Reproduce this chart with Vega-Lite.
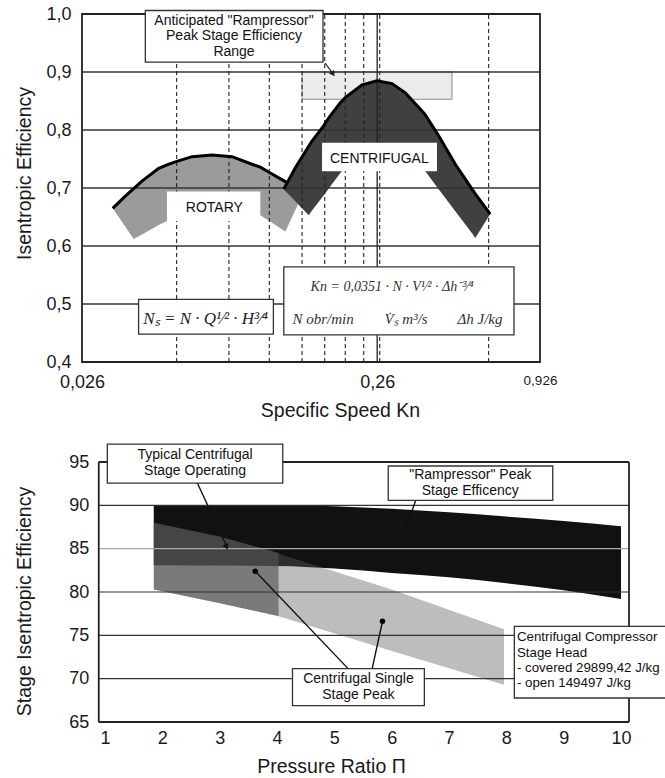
{
  "$schema": "https://vega.github.io/schema/vega-lite/v6.json",
  "background": "white",
  "padding": {"left": 13, "top": 4, "right": 0, "bottom": 0},
  "spacing": 22,
  "config": {
    "view": {"stroke": "#222", "strokeWidth": 1.8},
    "font": "Liberation Sans",
    "axis": {"labelColor": "#1a1a1a", "titleColor": "#1a1a1a", "titleFontWeight": "normal", "labelFont": "Liberation Sans", "titleFont": "Liberation Sans"}
  },
  "datasets": {
    "rotary": [
      {"kn": 0.03304, "eff": 0.665, "eff2": 0.665},
      {"kn": 0.03645, "eff": 0.686, "eff2": 0.633},
      {"kn": 0.03891, "eff": 0.699, "eff2": 0.612},
      {"kn": 0.04151, "eff": 0.712, "eff2": 0.620},
      {"kn": 0.04730, "eff": 0.734, "eff2": 0.636},
      {"kn": 0.05046, "eff": 0.740, "eff2": 0.643},
      {"kn": 0.05384, "eff": 0.745, "eff2": 0.648},
      {"kn": 0.06132, "eff": 0.754, "eff2": 0.655},
      {"kn": 0.07167, "eff": 0.757, "eff2": 0.660},
      {"kn": 0.08378, "eff": 0.754, "eff2": 0.658},
      {"kn": 0.09794, "eff": 0.741, "eff2": 0.654},
      {"kn": 0.1045, "eff": 0.736, "eff2": 0.653},
      {"kn": 0.1145, "eff": 0.724, "eff2": 0.640},
      {"kn": 0.1270, "eff": 0.711, "eff2": 0.625},
      {"kn": 0.1287, "eff": 0.709, "eff2": 0.631},
      {"kn": 0.1402, "eff": 0.672, "eff2": 0.672}
    ],
    "cent": [
      {"kn": 0.1254, "eff": 0.698, "eff2": 0.698},
      {"kn": 0.1373, "eff": 0.735, "eff2": 0.677},
      {"kn": 0.1524, "eff": 0.772, "eff2": 0.653},
      {"kn": 0.1564, "eff": 0.781, "eff2": 0.661},
      {"kn": 0.1717, "eff": 0.808, "eff2": 0.688},
      {"kn": 0.1782, "eff": 0.821, "eff2": 0.699},
      {"kn": 0.1950, "eff": 0.847, "eff2": 0.726},
      {"kn": 0.2027, "eff": 0.856, "eff2": 0.735},
      {"kn": 0.2310, "eff": 0.878, "eff2": 0.755},
      {"kn": 0.2596, "eff": 0.885, "eff2": 0.762},
      {"kn": 0.2918, "eff": 0.880, "eff2": 0.758},
      {"kn": 0.3238, "eff": 0.864, "eff2": 0.748},
      {"kn": 0.3689, "eff": 0.833, "eff2": 0.736},
      {"kn": 0.3785, "eff": 0.826, "eff2": 0.729},
      {"kn": 0.4201, "eff": 0.790, "eff2": 0.698},
      {"kn": 0.4783, "eff": 0.741, "eff2": 0.660},
      {"kn": 0.5450, "eff": 0.698, "eff2": 0.622},
      {"kn": 0.5590, "eff": 0.690, "eff2": 0.614},
      {"kn": 0.6282, "eff": 0.655, "eff2": 0.655}
    ],
    "vdash": [
      {"kn": 0.0544, "eff": 0.4, "eff2": 1.0},
      {"kn": 0.0818, "eff": 0.4, "eff2": 1.0},
      {"kn": 0.1121, "eff": 0.4, "eff2": 1.0},
      {"kn": 0.1447, "eff": 0.4, "eff2": 1.0},
      {"kn": 0.1727, "eff": 0.4, "eff2": 1.0},
      {"kn": 0.2027, "eff": 0.4, "eff2": 1.0},
      {"kn": 0.2341, "eff": 0.4, "eff2": 1.0},
      {"kn": 0.2652, "eff": 0.4, "eff2": 1.0},
      {"kn": 0.6204, "eff": 0.4, "eff2": 1.0}
    ],
    "vsolid": [{"kn": 0.26, "eff": 0.4, "eff2": 1.0}],
    "hgrid": [
      {"eff": 0.5, "kn": 0.026, "kn2": 0.926},
      {"eff": 0.6, "kn": 0.026, "kn2": 0.926},
      {"eff": 0.7, "kn": 0.026, "kn2": 0.926},
      {"eff": 0.8, "kn": 0.026, "kn2": 0.926},
      {"eff": 0.9, "kn": 0.026, "kn2": 0.926}
    ],
    "range": [{"kn": 0.1447, "kn2": 0.466, "eff": 0.853, "eff2": 0.9}],
    "topBoxes": [
      {"kn": 0.04261, "kn2": 0.1704, "eff": 0.917, "eff2": 1.006},
      {"kn": 0.04043, "kn2": 0.1157, "eff": 0.448, "eff2": 0.508},
      {"kn": 0.1255, "kn2": 0.7558, "eff": 0.4466, "eff2": 0.564}
    ],
    "topCutouts": [
      {"kn": 0.05046, "kn2": 0.1045, "eff": 0.643, "eff2": 0.694},
      {"kn": 0.1691, "kn2": 0.4145, "eff": 0.729, "eff2": 0.778}
    ],
    "topSans": [
      {"kn": 0.0851, "eff": 0.988, "label": "Anticipated \"Rampressor\""},
      {"kn": 0.0851, "eff": 0.962, "label": "Peak Stage Efficiency"},
      {"kn": 0.0851, "eff": 0.935, "label": "Range"},
      {"kn": 0.0730, "eff": 0.666, "label": "ROTARY"},
      {"kn": 0.2644, "eff": 0.7495, "label": "CENTRIFUGAL"}
    ],
    "nsText": [{"kn": 0.0682, "eff": 0.4736, "label": "Nₛ = N · Q¹⁄² · H³⁄⁴"}],
    "knTitle": [{"kn": 0.2922, "eff": 0.5293, "label": "Kn = 0,0351 · N · V¹⁄² · Δh⁻³⁄⁴"}],
    "knText": [
      {"kn": 0.1704, "eff": 0.4736, "label": "N  obr/min"},
      {"kn": 0.3256, "eff": 0.4736, "label": "V̇ₛ  m³/s"},
      {"kn": 0.5799, "eff": 0.4736, "label": "Δh  J/kg"}
    ],
    "topArrow": [{"kn": 0.1731, "eff": 0.9155, "kn2": 0.1843, "eff2": 0.8966}],
    "topHead": [{"kn": 0.1843, "eff": 0.8966}],
    "ramp": [
      {"pr": 1.85, "se": 90.0, "se2": 83.1},
      {"pr": 4.0, "se": 90.0, "se2": 83.0},
      {"pr": 5.0, "se": 89.9, "se2": 82.7},
      {"pr": 6.0, "se": 89.6, "se2": 82.2},
      {"pr": 7.0, "se": 89.2, "se2": 81.7},
      {"pr": 8.0, "se": 88.7, "se2": 81.0},
      {"pr": 9.0, "se": 88.2, "se2": 80.2},
      {"pr": 10.0, "se": 87.6, "se2": 79.2}
    ],
    "typical": [
      {"pr": 1.85, "se": 88.0, "se2": 80.3},
      {"pr": 3.0, "se": 86.4, "se2": 78.7},
      {"pr": 4.03, "se": 84.5, "se2": 77.2}
    ],
    "single": [
      {"pr": 4.03, "se": 84.4, "se2": 77.2},
      {"pr": 6.0, "se": 80.3, "se2": 73.2},
      {"pr": 7.96, "se": 75.7, "se2": 69.3}
    ],
    "bgrid": [
      {"se": 70, "pr": 0.89, "pr2": 10.14},
      {"se": 75, "pr": 0.89, "pr2": 10.14},
      {"se": 80, "pr": 0.89, "pr2": 10.14},
      {"se": 90, "pr": 0.89, "pr2": 10.14}
    ],
    "bgridLight": [{"se": 85, "pr": 0.89, "pr2": 10.14}],
    "bframe": [
      {"pr": 0.89, "pr2": 10.14, "se": 95, "se2": 95},
      {"pr": 0.89, "pr2": 10.14, "se": 65, "se2": 65},
      {"pr": 0.89, "pr2": 0.89, "se": 65, "se2": 95},
      {"pr": 10.14, "pr2": 10.14, "se": 65, "se2": 95}
    ],
    "bBoxes": [
      {"pr": 1.04, "pr2": 4.10, "se": 92.57, "se2": 97.07},
      {"pr": 5.94, "pr2": 8.81, "se": 90.58, "se2": 94.54},
      {"pr": 4.27, "pr2": 6.57, "se": 66.9, "se2": 71.16},
      {"pr": 8.14, "pr2": 11.7, "se": 67.77, "se2": 76.04}
    ],
    "bText": [
      {"pr": 2.57, "se": 95.85, "label": "Typical Centrifugal"},
      {"pr": 2.57, "se": 94.0, "label": "Stage Operating"},
      {"pr": 7.37, "se": 93.48, "label": "\"Rampressor\" Peak"},
      {"pr": 7.37, "se": 91.64, "label": "Stage Efficency"},
      {"pr": 5.42, "se": 70.01, "label": "Centrifugal Single"},
      {"pr": 5.42, "se": 68.17, "label": "Stage Peak"}
    ],
    "compText": [
      {"pr": 8.185, "se": 74.31, "label": "Centrifugal Compressor"},
      {"pr": 8.185, "se": 72.55, "label": "Stage Head"},
      {"pr": 8.185, "se": 70.77, "label": "- covered  29899,42 J/kg"},
      {"pr": 8.185, "se": 69.01, "label": "- open  149497 J/kg"}
    ],
    "bLines": [
      {"pr": 2.61, "se": 92.57, "pr2": 3.12, "se2": 85.3},
      {"pr": 6.42, "se": 90.58, "pr2": 6.28, "se2": 88.0},
      {"pr": 5.24, "se": 71.16, "pr2": 3.62, "se2": 82.39},
      {"pr": 5.66, "se": 71.16, "pr2": 5.84, "se2": 76.62}
    ],
    "headTypical": [{"pr": 3.12, "se": 85.2}],
    "headRamp": [{"pr": 6.27, "se": 87.8}],
    "bDots": [{"pr": 3.62, "se": 82.39}, {"pr": 5.84, "se": 76.62}]
  },
  "vconcat": [
    {
      "width": 458,
      "height": 348,
      "encoding": {
        "x": {"field": "kn", "type": "quantitative",
          "scale": {"type": "log", "domain": [0.026, 0.926], "nice": false},
          "axis": {"values": [0.026, 0.26, 0.926], "labelExpr": "replace(format(datum.value, '.3~f'), '.', ',')",
            "grid": false, "ticks": false, "domain": false, "labelFlush": false, "labelPadding": 11,
            "labelFontSize": {"condition": {"test": "datum.value > 0.5", "value": 13.5}, "value": 18},
            "title": "Specific Speed  Kn", "titleFontSize": 19.5, "titlePadding": 10, "titleX": 258}},
        "y": {"field": "eff", "type": "quantitative",
          "scale": {"domain": [0.4, 1.0], "nice": false, "zero": false},
          "axis": {"values": [0.4, 0.5, 0.6, 0.7, 0.8, 0.9, 1.0], "labelExpr": "replace(format(datum.value, '.1f'), '.', ',')",
            "grid": false, "ticks": false, "domain": false, "labelPadding": 11, "labelFontSize": 18,
            "title": "Isentropic Efficiency", "titleFontSize": 19.5, "titleX": -48, "titleY": 159}}
      },
      "layer": [
        {"data": {"name": "range"}, "mark": {"type": "rect", "fill": "#ebebeb", "stroke": "#8a8a8a", "strokeWidth": 1},
          "encoding": {"x2": {"field": "kn2"}, "y2": {"field": "eff2"}}},
        {"data": {"name": "rotary"}, "mark": {"type": "area", "orient": "vertical", "color": "#9b9b9b"},
          "encoding": {"y2": {"field": "eff2"}}},
        {"data": {"name": "cent"}, "mark": {"type": "area", "orient": "vertical", "color": "#404040"},
          "encoding": {"y2": {"field": "eff2"}}},
        {"data": {"name": "hgrid"}, "mark": {"type": "rule", "color": "#333", "strokeWidth": 1.3},
          "encoding": {"x2": {"field": "kn2"}}},
        {"data": {"name": "vdash"}, "mark": {"type": "rule", "color": "#222", "strokeWidth": 1.1, "strokeDash": [4, 3]},
          "encoding": {"y2": {"field": "eff2"}}},
        {"data": {"name": "vsolid"}, "mark": {"type": "rule", "color": "#222", "strokeWidth": 1.3},
          "encoding": {"y2": {"field": "eff2"}}},
        {"data": {"name": "rotary"}, "transform": [{"filter": "datum.kn <= 0.1288"}],
          "mark": {"type": "line", "color": "#000", "strokeWidth": 3}, "encoding": {}},
        {"data": {"name": "cent"}, "mark": {"type": "line", "color": "#000", "strokeWidth": 3}, "encoding": {}},
        {"data": {"name": "topCutouts"}, "mark": {"type": "rect", "fill": "white", "strokeWidth": 0},
          "encoding": {"x2": {"field": "kn2"}, "y2": {"field": "eff2"}}},
        {"data": {"name": "topBoxes"}, "mark": {"type": "rect", "fill": "white", "stroke": "#333", "strokeWidth": 1.3},
          "encoding": {"x2": {"field": "kn2"}, "y2": {"field": "eff2"}}},
        {"data": {"name": "topSans"}, "mark": {"type": "text", "fontSize": 14, "color": "#111", "baseline": "middle", "font": "Liberation Sans"},
          "encoding": {"text": {"field": "label"}}},
        {"data": {"name": "nsText"}, "mark": {"type": "text", "fontSize": 17, "color": "#222", "baseline": "middle", "font": "Liberation Serif", "fontStyle": "italic"},
          "encoding": {"text": {"field": "label"}}},
        {"data": {"name": "knTitle"}, "mark": {"type": "text", "fontSize": 14, "color": "#333", "baseline": "middle", "font": "Liberation Serif", "fontStyle": "italic"},
          "encoding": {"text": {"field": "label"}}},
        {"data": {"name": "knText"}, "mark": {"type": "text", "fontSize": 15, "color": "#333", "baseline": "middle", "font": "Liberation Serif", "fontStyle": "italic"},
          "encoding": {"text": {"field": "label"}}},
        {"data": {"name": "topArrow"}, "mark": {"type": "rule", "color": "#222", "strokeWidth": 1.2},
          "encoding": {"x2": {"field": "kn2"}, "y2": {"field": "eff2"}}},
        {"data": {"name": "topHead"}, "mark": {"type": "point", "shape": "triangle-up", "filled": true, "color": "#222", "size": 40, "angle": 144, "opacity": 1},
          "encoding": {}}
      ]
    },
    {
      "width": 547,
      "height": 260,
      "view": {"stroke": null},
      "encoding": {
        "x": {"field": "pr", "type": "quantitative",
          "scale": {"domain": [0.598, 10.14], "nice": false, "zero": false},
          "axis": {"values": [1, 2, 3, 4, 5, 6, 7, 8, 9, 10], "format": "d", "grid": false, "ticks": false, "domain": false,
            "labelFlush": false, "labelPadding": 7, "labelFontSize": 18,
            "title": "Pressure Ratio  Π", "titleFontSize": 19.5, "titlePadding": 10, "titleX": 249}},
        "y": {"field": "se", "type": "quantitative",
          "scale": {"domain": [65, 95], "nice": false, "zero": false},
          "axis": {"values": [65, 70, 75, 80, 85, 90, 95], "grid": false, "ticks": false, "domain": false,
            "offset": -16.7, "labelPadding": 10, "labelFontSize": 18,
            "title": "Stage Isentropic Efficiency", "titleFontSize": 19.5, "titleX": -64, "titleY": 139}}
      },
      "layer": [
        {"data": {"name": "ramp"}, "mark": {"type": "area", "orient": "vertical", "color": "#111", "interpolate": "monotone"},
          "encoding": {"y2": {"field": "se2"}}},
        {"data": {"name": "typical"}, "mark": {"type": "area", "orient": "vertical", "color": "#555", "opacity": 0.78},
          "encoding": {"y2": {"field": "se2"}}},
        {"data": {"name": "single"}, "mark": {"type": "area", "orient": "vertical", "color": "#595959", "opacity": 0.4},
          "encoding": {"y2": {"field": "se2"}}},
        {"data": {"name": "bgrid"}, "mark": {"type": "rule", "color": "#333", "strokeWidth": 1.2},
          "encoding": {"x2": {"field": "pr2"}}},
        {"data": {"name": "bgridLight"}, "mark": {"type": "rule", "color": "#a8a8a8", "strokeWidth": 1.2},
          "encoding": {"x2": {"field": "pr2"}}},
        {"data": {"name": "bframe"}, "mark": {"type": "rule", "color": "#222", "strokeWidth": 1.8},
          "encoding": {"x2": {"field": "pr2"}, "y2": {"field": "se2"}}},
        {"data": {"name": "bLines"}, "mark": {"type": "rule", "color": "#111", "strokeWidth": 1.4},
          "encoding": {"x2": {"field": "pr2"}, "y2": {"field": "se2"}}},
        {"data": {"name": "headTypical"}, "mark": {"type": "point", "shape": "triangle-up", "filled": true, "color": "#111", "size": 45, "angle": 155, "opacity": 1},
          "encoding": {}},
        {"data": {"name": "headRamp"}, "mark": {"type": "point", "shape": "triangle-up", "filled": true, "color": "#111", "size": 45, "angle": 199, "opacity": 1},
          "encoding": {}},
        {"data": {"name": "bDots"}, "mark": {"type": "circle", "color": "#000", "size": 30, "opacity": 1},
          "encoding": {}},
        {"data": {"name": "bBoxes"}, "mark": {"type": "rect", "fill": "white", "stroke": "#333", "strokeWidth": 1.3},
          "encoding": {"x2": {"field": "pr2"}, "y2": {"field": "se2"}}},
        {"data": {"name": "bText"}, "mark": {"type": "text", "fontSize": 14, "color": "#111", "baseline": "middle", "font": "Liberation Sans"},
          "encoding": {"text": {"field": "label"}}},
        {"data": {"name": "compText"}, "mark": {"type": "text", "fontSize": 13.3, "color": "#111", "baseline": "alphabetic", "align": "left", "font": "Liberation Sans"},
          "encoding": {"text": {"field": "label"}}}
      ]
    }
  ]
}
